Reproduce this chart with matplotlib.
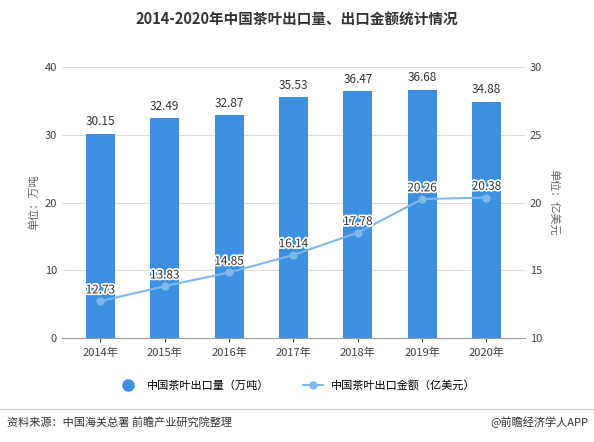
import matplotlib.pyplot as plt
import matplotlib.patheffects as pe
from matplotlib.lines import Line2D

plt.rcParams['font.family'] = ['Noto Sans CJK SC', 'DejaVu Sans']

years = ["2014年", "2015年", "2016年", "2017年", "2018年", "2019年", "2020年"]
volume = [30.15, 32.49, 32.87, 35.53, 36.47, 36.68, 34.88]
amount = [12.73, 13.83, 14.85, 16.14, 17.78, 20.26, 20.38]

fig = plt.figure(figsize=(5.94, 4.42), dpi=100)
ax = fig.add_axes([0.104, 0.235, 0.78, 0.613])
x = range(len(years))
ax.bar(x, volume, width=0.45, color="#3d8fe0", zorder=2)
for i, v in enumerate(volume):
    ax.text(i, v + 0.8, f"{v:.2f}", ha="center", va="bottom", fontsize=8.5, color="#333333")
ax.set_ylim(0, 40)
ax.set_yticks(range(0, 41, 10))
ax.set_xlim(-0.6, 6.6)
ax.set_xticks(list(x))
ax.set_xticklabels(years, fontsize=8)
ax.tick_params(axis="y", labelsize=8, length=0, colors="#444444")
ax.tick_params(axis="x", length=3, colors="#444444")
ax.grid(axis="y", color="#dddddd", linewidth=0.8, zorder=0)
for s in ["top", "right", "left"]:
    ax.spines[s].set_visible(False)
ax.spines["bottom"].set_color("#999999")
ax.set_ylabel("单位：万吨", fontsize=8, color="#666666")

ax2 = ax.twinx()
line, = ax2.plot(x, amount, color="#7fb8ea", linewidth=1.5, marker="o", markersize=5,
                 markerfacecolor="#7fb8ea", zorder=3)
for i, v in enumerate(amount):
    ax2.text(i, v + 0.35, f"{v:.2f}", ha="center", va="bottom", fontsize=8.5, color="#333333",
             path_effects=[pe.withStroke(linewidth=2.5, foreground="white")])
ax2.set_ylim(10, 30)
ax2.set_yticks(range(10, 31, 5))
ax2.tick_params(axis="y", labelsize=8, length=0, colors="#444444")
for s in ["top", "right", "left", "bottom"]:
    ax2.spines[s].set_visible(False)
ax2.set_ylabel("单位：亿美元", fontsize=8, color="#666666", rotation=270, labelpad=12)

bar_handle = Line2D([], [], linestyle="none", marker="o", markersize=8, color="#3d8fe0")
fig.legend([bar_handle, line], ["中国茶叶出口量（万吨）", "中国茶叶出口金额（亿美元）"],
           loc="center", bbox_to_anchor=(0.5, 0.128), ncol=2, frameon=False, fontsize=8,
           handlelength=1.8, columnspacing=3)
fig.text(0.5, 0.955, "2014-2020年中国茶叶出口量、出口金额统计情况", ha="center", va="center",
         fontsize=10.5, fontweight="bold", color="#333333")
fig.add_artist(Line2D([0, 1], [0.075, 0.075], color="#cccccc", linewidth=0.8))
fig.text(0.012, 0.045, "资料来源：中国海关总署 前瞻产业研究院整理", fontsize=8, va="center", color="#333333")
fig.text(0.99, 0.045, "@前瞻经济学人APP", fontsize=8, va="center", ha="right", color="#333333")
fig.savefig("out.png", dpi=100)
